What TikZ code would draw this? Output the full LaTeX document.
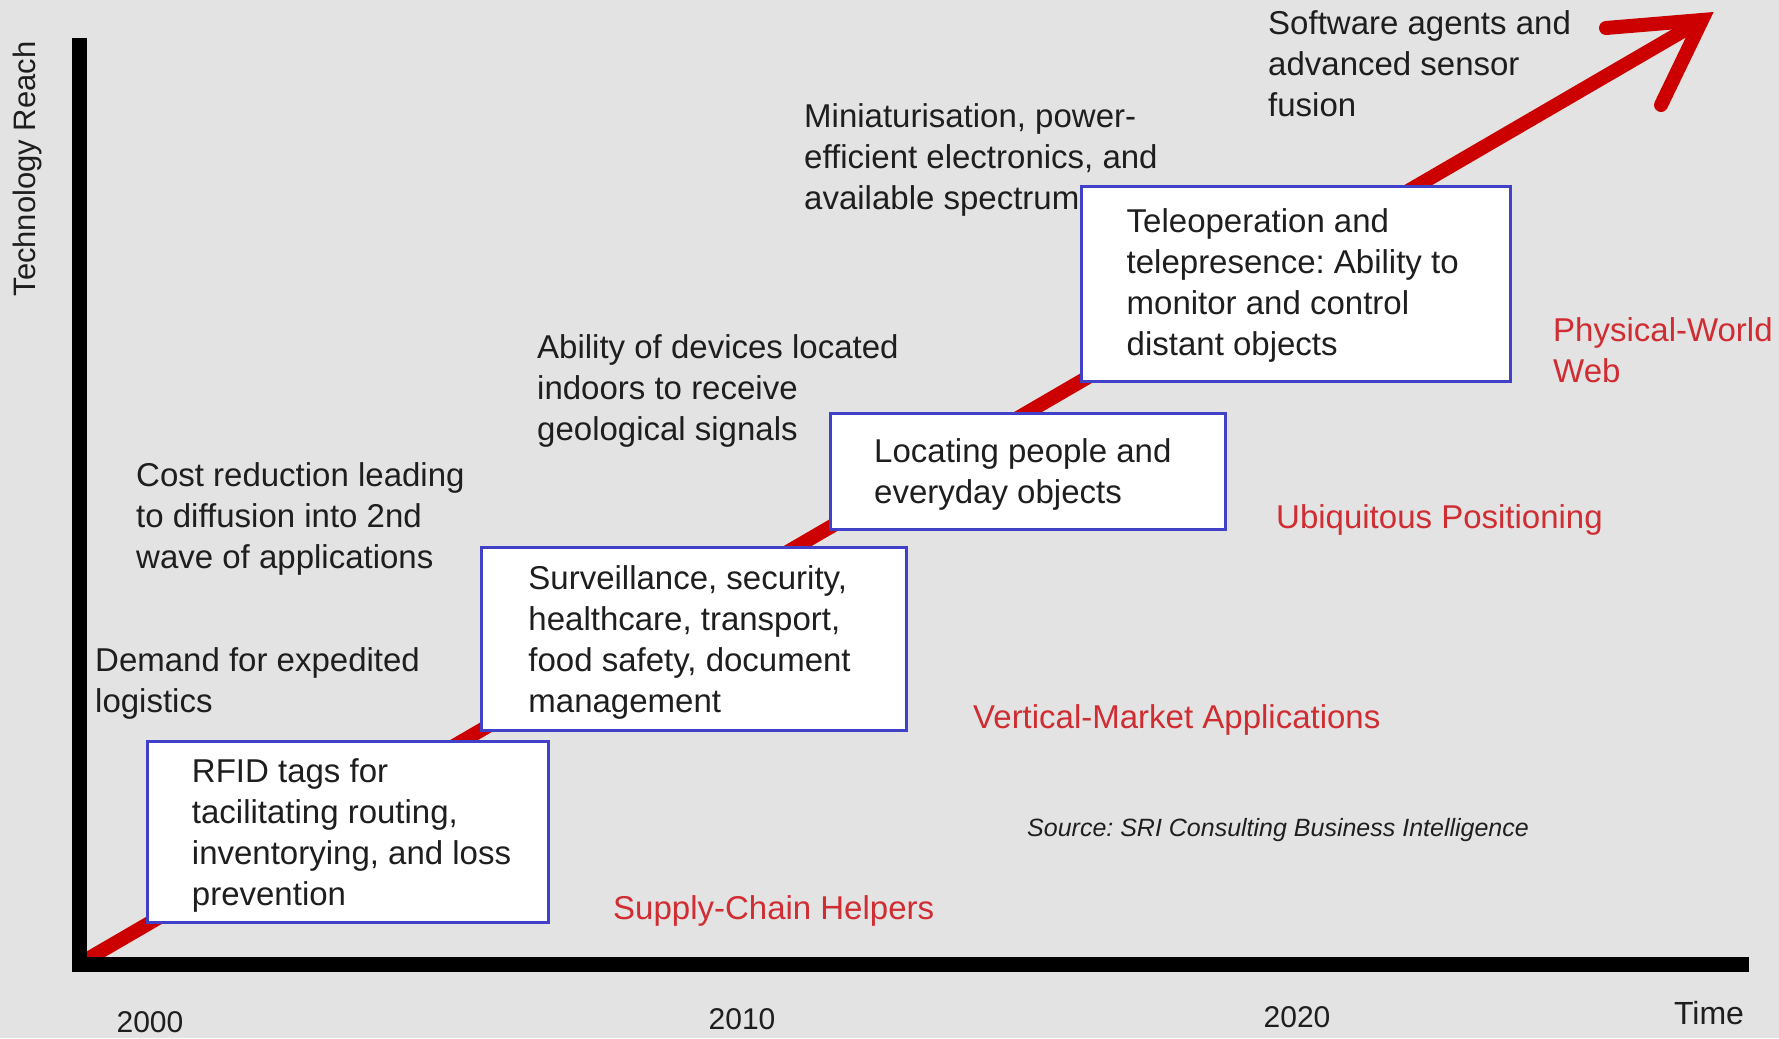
\documentclass[tikz,border=0pt]{standalone}
\usepackage{fontspec}
\setmainfont{Liberation Sans}
\frenchspacing
\definecolor{bgc}{RGB}{227,227,227}
\definecolor{trendred}{RGB}{204,0,0}
\definecolor{labred}{RGB}{208,45,50}
\definecolor{boxblue}{RGB}{64,64,200}
\definecolor{ink}{RGB}{30,30,30}
\begin{document}
\begin{tikzpicture}[x=1pt,y=-1pt,
  txt/.style={anchor=north west, inner sep=0pt, align=left, text=ink, font=\fontsize{33}{41}\selectfont},
  redlab/.style={txt, text=labred},
  boxtxt/.style={anchor=west, inner sep=0pt, align=left, text=ink, font=\fontsize{33}{41}\selectfont},
  milestone/.style={draw=boxblue, line width=3pt, fill=white, inner sep=0pt},
  trendline/.style={draw=trendred, line width=14pt},
  axisline/.style={draw=black, line width=15pt},
  yearlab/.style={inner sep=0pt, text=ink, font=\fontsize{30}{36}\selectfont}]
\useasboundingbox (0,0) rectangle (1779,1038);
\fill[bgc] (0,0) rectangle (1779,1038);
% trend arrow
\coordinate (origin) at (79,964);
\coordinate (tip) at (1702,20);
\coordinate (barbA) at (1606,28);
\coordinate (barbB) at (1661,105);
\draw[trendline] (origin) -- (tip);
\draw[trendline, line cap=round, line join=miter] (barbA) -- (tip) -- (barbB);
% axes
\coordinate (ytop) at (79,38);
\coordinate (xend) at (1749,964);
\draw[axisline, line join=miter] (ytop) -- (origin) -- (xend);
% boxes
\node[milestone, minimum width=401.5pt, minimum height=181pt] (rfid) at (348,831.5) {};
\node[boxtxt] (rfidtxt) at ([xshift=46pt,yshift=-4pt]rfid.west) {RFID tags for\\tacilitating routing,\\inventorying, and loss\\prevention};
\node[milestone, minimum width=424.5pt, minimum height=183pt] (surv) at (694,638.5) {};
\node[boxtxt] (survtxt) at ([xshift=48pt,yshift=-4pt]surv.west) {Surveillance, security,\\healthcare, transport,\\food safety, document\\management};
\node[milestone, minimum width=395pt, minimum height=116pt] (loc) at (1028,471) {};
\node[boxtxt] (loctxt) at ([xshift=45pt,yshift=-3pt]loc.west) {Locating people and\\everyday objects};
\node[milestone, minimum width=429pt, minimum height=195pt] (tele) at (1295.5,283.5) {};
\node[boxtxt] (teletxt) at ([xshift=47pt,yshift=-2pt]tele.west) {Teleoperation and\\telepresence: Ability to\\monitor and control\\distant objects};
% drivers
\node[txt] (soft) at (1268,10) {Software agents and\\advanced sensor\\fusion};
\node[txt] (mini) at (804,103) {Miniaturisation, power-\\efficient electronics, and\\available spectrum};
\node[txt] (abil) at (537,334) {Ability of devices located\\indoors to receive\\geological signals};
\node[txt] (cost) at (136,462) {Cost reduction leading\\to diffusion into 2nd\\wave of applications};
\node[txt] (dem) at (95,647) {Demand for expedited\\logistics};
% phases
\node[redlab] (phys) at (1553,317) {Physical-World\\Web};
\node[redlab] (ubiq) at (1276,504) {Ubiquitous Positioning};
\node[redlab] (vert) at (973,704) {Vertical-Market Applications};
\node[redlab] (supp) at (613,895) {Supply-Chain Helpers};
% source
\node[anchor=north west, inner sep=0pt, text=ink, font=\itshape\fontsize{25}{30}\selectfont] (src) at (1027,818) {Source: SRI Consulting Business Intelligence};
% axis labels
\node[inner sep=0pt, rotate=90, text=ink, font=\fontsize{31}{36}\selectfont] (ylab) at (27,169) {Technology Reach};
\node[yearlab] (y2000) at (150,1022) {2000};
\node[yearlab] (y2010) at (742,1019) {2010};
\node[yearlab] (y2020) at (1297,1017) {2020};
\node[inner sep=0pt, text=ink, font=\fontsize{32}{36}\selectfont] (time) at (1709,1013) {Time};
\end{tikzpicture}
\end{document}
